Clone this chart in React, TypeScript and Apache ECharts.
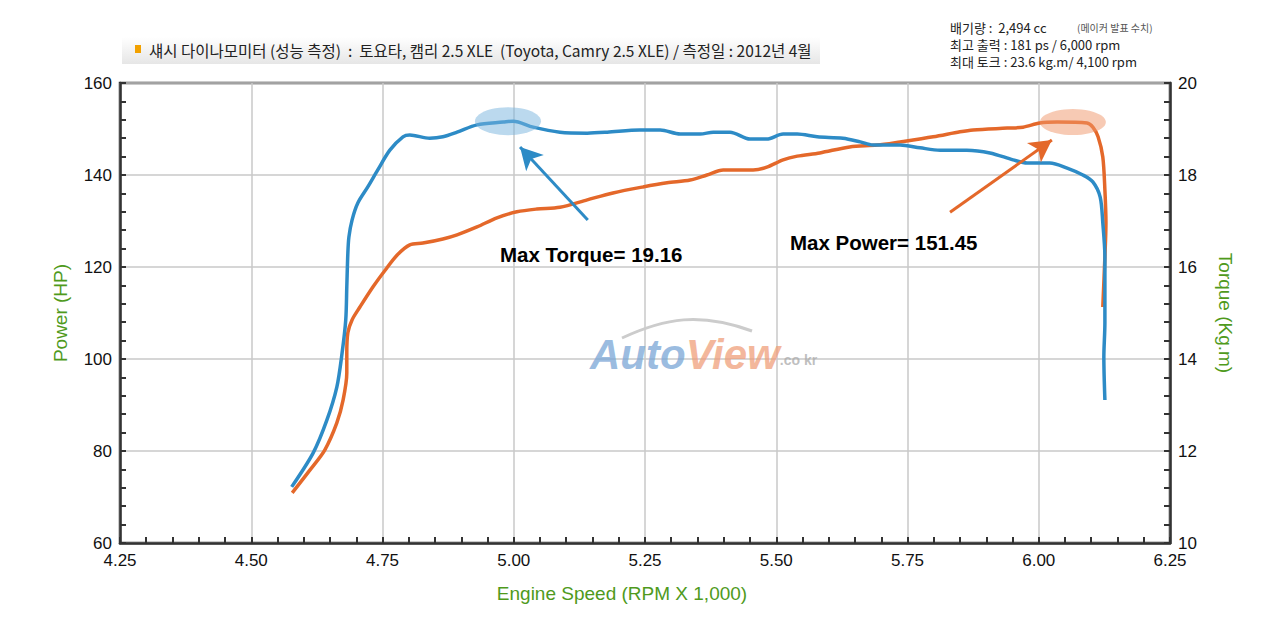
import { useEffect, useRef } from 'react'
import * as echarts from 'echarts'

const torqueRpm = [4.577, 4.618, 4.644, 4.663, 4.673, 4.680, 4.682, 4.684, 4.686, 4.692, 4.703, 4.722, 4.741, 4.764, 4.789, 4.802, 4.840, 4.865, 4.892, 4.930, 4.980, 4.999, 5.037, 5.088, 5.140, 5.178, 5.240, 5.279, 5.317, 5.355, 5.380, 5.412, 5.450, 5.482, 5.513, 5.540, 5.578, 5.627, 5.660, 5.684, 5.736, 5.774, 5.812, 5.863, 5.907, 5.951, 5.978, 6.021, 6.054, 6.084, 6.103, 6.117, 6.122, 6.126, 6.126, 6.124, 6.126]
const torqueKgm = [11.22, 11.96, 12.67, 13.39, 14.13, 14.85, 15.57, 16.30, 16.65, 17.02, 17.39, 17.74, 18.11, 18.54, 18.83, 18.87, 18.80, 18.83, 18.93, 19.09, 19.15, 19.17, 19.04, 18.93, 18.91, 18.93, 18.98, 18.98, 18.89, 18.89, 18.93, 18.93, 18.78, 18.78, 18.89, 18.89, 18.83, 18.80, 18.72, 18.65, 18.65, 18.59, 18.54, 18.54, 18.48, 18.33, 18.26, 18.26, 18.15, 18.00, 17.85, 17.52, 16.96, 16.22, 14.78, 14.04, 13.11]

const powerRpm = [4.578, 4.612, 4.640, 4.663, 4.675, 4.682, 4.682, 4.684, 4.692, 4.707, 4.732, 4.755, 4.778, 4.802, 4.827, 4.865, 4.892, 4.930, 4.968, 5.006, 5.044, 5.088, 5.140, 5.189, 5.246, 5.292, 5.336, 5.368, 5.399, 5.456, 5.482, 5.513, 5.540, 5.583, 5.640, 5.692, 5.736, 5.799, 5.850, 5.875, 5.940, 5.970, 6.002, 6.035, 6.092, 6.103, 6.113, 6.122, 6.126, 6.128, 6.126, 6.122]
const powerHp = [70.9, 75.9, 80.2, 86.1, 91.1, 97.0, 101.3, 105.7, 108.5, 111.3, 115.7, 119.3, 122.6, 124.8, 125.2, 126.1, 127.0, 128.7, 130.7, 132.0, 132.6, 133.0, 134.6, 136.1, 137.4, 138.3, 138.9, 140.0, 141.1, 141.1, 141.7, 143.3, 144.1, 144.8, 146.1, 146.5, 147.2, 148.3, 149.4, 149.8, 150.2, 150.4, 151.3, 151.5, 151.3, 150.4, 148.3, 143.9, 136.7, 129.6, 122.2, 111.3]

// annotation anchors [rpm, value]
const torquePeak = [4.989, 19.17]
const powerPeak = [6.065, 151.5]
const torqueArrow = [[5.141, 17.02], [5.012, 18.61]]
const powerArrow = [[5.831, 131.9], [6.025, 147.6]]

const xTicks = { min: 4.25, max: 6.25, interval: 0.25 }
const hpTicks = { min: 60, max: 160, interval: 20 }
const tqTicks = { min: 10, max: 20, interval: 2 }

const BLUE = '#2d8bc6'
const ORANGE = '#e4682a'
const GREEN = '#4f9a1c'
const AXIS = '#333'
const KR = '"Noto Sans CJK KR", "Noto Sans", sans-serif'
const LAT = '"Liberation Sans", Arial, sans-serif'

const zip = (xs: number[], ys: number[]) => xs.map((x, i) => [x, ys[i]])

function axisCommon() {
  return {
    axisLine: { show: true, lineStyle: { color: AXIS, width: 2.5 } },
    axisTick: { show: true, inside: true, length: 6, lineStyle: { color: AXIS, width: 2 } },
    minorTick: { show: true, splitNumber: 5, length: 6, lineStyle: { color: AXIS, width: 2 } },
    splitLine: { show: true, lineStyle: { color: '#c8c8c8', width: 1.5 } },
    nameTextStyle: { color: GREEN, fontSize: 19, fontFamily: LAT },
    nameLocation: 'middle' as const,
  }
}

const tickLabel = { color: '#111', fontSize: 17, fontFamily: LAT }

export default function App() {
  const chartRef = useRef<HTMLDivElement>(null)

  useEffect(() => {
    if (!chartRef.current) return
    const chart = echarts.init(chartRef.current, null, { renderer: 'svg' })

    chart.setOption({
      animation: false,
      backgroundColor: '#fff',
      grid: { left: 120, right: 110, top: 83, bottom: 77, show: true, borderColor: AXIS, borderWidth: 2.5 },
      xAxis: {
        type: 'value',
        ...xTicks,
        ...axisCommon(),
        name: 'Engine Speed (RPM X 1,000)',
        nameGap: 41,
        nameTextStyle: { color: GREEN, fontSize: 19, fontFamily: LAT, padding: [0, 46, 0, 0] },
        axisLabel: { ...tickLabel, margin: 9, formatter: (v: number) => v.toFixed(2) },
      },
      yAxis: [
        {
          type: 'value',
          ...hpTicks,
          ...axisCommon(),
          name: 'Power (HP)',
          nameRotate: 90,
          nameGap: 50,
          axisLabel: { ...tickLabel, margin: 8 },
        },
        {
          type: 'value',
          position: 'right',
          ...tqTicks,
          ...axisCommon(),
          splitLine: { show: false },
          name: 'Torque (Kg.m)',
          nameRotate: -90,
          nameGap: 46,
          axisLabel: { ...tickLabel, margin: 8 },
        },
      ],
      series: [
        {
          name: 'Power',
          type: 'line',
          yAxisIndex: 0,
          data: zip(powerRpm, powerHp),
          showSymbol: false,
          smooth: 0.3,
          lineStyle: { color: ORANGE, width: 3.5 },
          z: 3,
          markPoint: {
            silent: true,
            symbol: 'circle',
            symbolSize: [66, 26],
            label: { show: false },
            itemStyle: { color: 'rgba(240,150,105,0.5)' },
            data: [{ coord: powerPeak }],
          },
          markLine: {
            silent: true,
            symbol: ['none', 'arrow'],
            symbolSize: [18, 22],
            label: { show: false },
            lineStyle: { color: ORANGE, width: 3, type: 'solid' },
            data: [[{ coord: powerArrow[0] }, { coord: powerArrow[1] }]],
          },
        },
        {
          name: 'Torque',
          type: 'line',
          yAxisIndex: 1,
          data: zip(torqueRpm, torqueKgm),
          showSymbol: false,
          smooth: 0.3,
          lineStyle: { color: BLUE, width: 3.5 },
          z: 4,
          markPoint: {
            silent: true,
            symbol: 'circle',
            symbolSize: [66, 28],
            label: { show: false },
            itemStyle: { color: 'rgba(120,180,222,0.5)' },
            data: [{ coord: torquePeak }],
          },
          markLine: {
            silent: true,
            symbol: ['none', 'arrow'],
            symbolSize: [18, 22],
            label: { show: false },
            lineStyle: { color: BLUE, width: 3, type: 'solid' },
            data: [[{ coord: torqueArrow[0] }, { coord: torqueArrow[1] }]],
          },
        },
      ],
      graphic: [
        // title bar
        {
          type: 'rect',
          shape: { x: 122, y: 37, width: 698, height: 27 },
          style: {
            fill: new echarts.graphic.LinearGradient(0, 0, 0, 1, [
              { offset: 0, color: '#ffffff' },
              { offset: 1, color: '#e6e6e6' },
            ]),
          },
          z: -1,
        },
        { type: 'rect', shape: { x: 135, y: 45, width: 6, height: 8 }, style: { fill: '#f2a100' } },
        {
          type: 'text',
          x: 149,
          y: 50,
          style: {
            text: '섀시 다이나모미터 (성능 측정)  :  토요타, 캠리 2.5 XLE  (Toyota, Camry 2.5 XLE) / 측정일 : 2012년 4월',
            font: `15.5px ${KR}`,
            fill: '#222',
            verticalAlign: 'middle',
          },
        },
        // spec block
        {
          type: 'text', x: 950, y: 27,
          style: { text: '배기량 :  2,494 cc', font: `13px ${KR}`, fill: '#222', verticalAlign: 'middle' },
        },
        {
          type: 'text', x: 1077, y: 27,
          style: { text: '(메이커 발표 수치)', font: `10px ${KR}`, fill: '#555', verticalAlign: 'middle' },
        },
        {
          type: 'text', x: 950, y: 44,
          style: { text: '최고 출력 : 181 ps / 6,000 rpm', font: `13px ${KR}`, fill: '#222', verticalAlign: 'middle' },
        },
        {
          type: 'text', x: 950, y: 61,
          style: { text: '최대 토크 : 23.6 kg.m/ 4,100 rpm', font: `13px ${KR}`, fill: '#222', verticalAlign: 'middle' },
        },
        // annotations
        {
          type: 'text', x: 500, y: 254, z: 10,
          style: { text: 'Max Torque= 19.16', font: `bold 20.5px ${LAT}`, fill: '#000', verticalAlign: 'middle' },
        },
        {
          type: 'text', x: 790, y: 242, z: 10,
          style: { text: 'Max Power= 151.45', font: `bold 20.5px ${LAT}`, fill: '#000', verticalAlign: 'middle' },
        },
        // watermark
        {
          type: 'bezierCurve',
          shape: { x1: 622, y1: 338, x2: 752, y2: 331, cpx1: 665, cpy1: 318, cpx2: 700, cpy2: 312 },
          style: { stroke: '#cccccc', lineWidth: 3, fill: 'none' },
          z: 1,
        },
        {
          type: 'text', x: 590, y: 354, z: 1,
          style: {
            text: '{a|Auto}{b|View}{c|.co kr}',
            verticalAlign: 'middle',
            opacity: 0.75,
            rich: {
              a: { font: `italic bold 42px ${LAT}`, fill: '#7aa6d6' },
              b: { font: `italic bold 42px ${LAT}`, fill: '#ef9f7c' },
              c: { font: `bold 14px ${LAT}`, fill: '#aaaaaa', padding: [12, 0, 0, 0] },
            },
          },
        },
      ],
    })

    return () => {
      chart.dispose()
    }
  }, [])

  return <div ref={chartRef} style={{ position: 'fixed', left: 0, top: 0, width: 1280, height: 620 }} />
}
